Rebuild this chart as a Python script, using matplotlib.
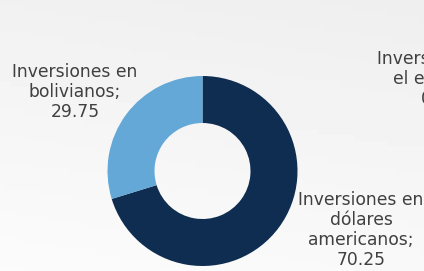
import matplotlib
matplotlib.use("Agg")
import matplotlib.pyplot as plt
import numpy as np

# data
categorias = ["Inversiones en\ndólares\namericanos;", "Inversiones en\nbolivianos;"]
valores = [70.25, 29.75]
colores = ["#0f2d50", "#64a8d8"]
otra_categoria = "Inversiones en\nel exterior;"
otro_valor = 0.00

W, H = 424, 271
fig = plt.figure(figsize=(W / 100, H / 100), dpi=100)
ax = fig.add_axes([0, 0, 1, 1])

# light gray background with a soft gradient
gy, gx = np.mgrid[0:1:50j, 0:1:80j]
grad = 0.935 + 0.04 * gy + 0.01 * (1 - gx)
ax.imshow(grad, cmap="gray", vmin=0, vmax=1, extent=[0, W, 0, H],
          origin="upper", aspect="auto", zorder=0)

ax.pie(valores, colors=colores, startangle=90, counterclock=False,
       radius=95, center=(202.5, 100),
       wedgeprops=dict(width=47, edgecolor="none"))

ax.set_xlim(0, W)
ax.set_ylim(0, H)
ax.set_aspect("auto")
ax.axis("off")

fuente = dict(fontsize=12.3, color="#404040", ha="center", va="center",
              family="DejaVu Sans", linespacing=1.15)
ax.text(75, H - 92, f"{categorias[1]}\n{valores[1]:.2f}", **fuente)
ax.text(361, H - 230, f"{categorias[0]}\n{valores[0]:.2f}", **fuente)
ax.text(440, H - 79, f"{otra_categoria}\n{otro_valor:.2f}", **fuente)

fig.savefig("out.png", dpi=100)
